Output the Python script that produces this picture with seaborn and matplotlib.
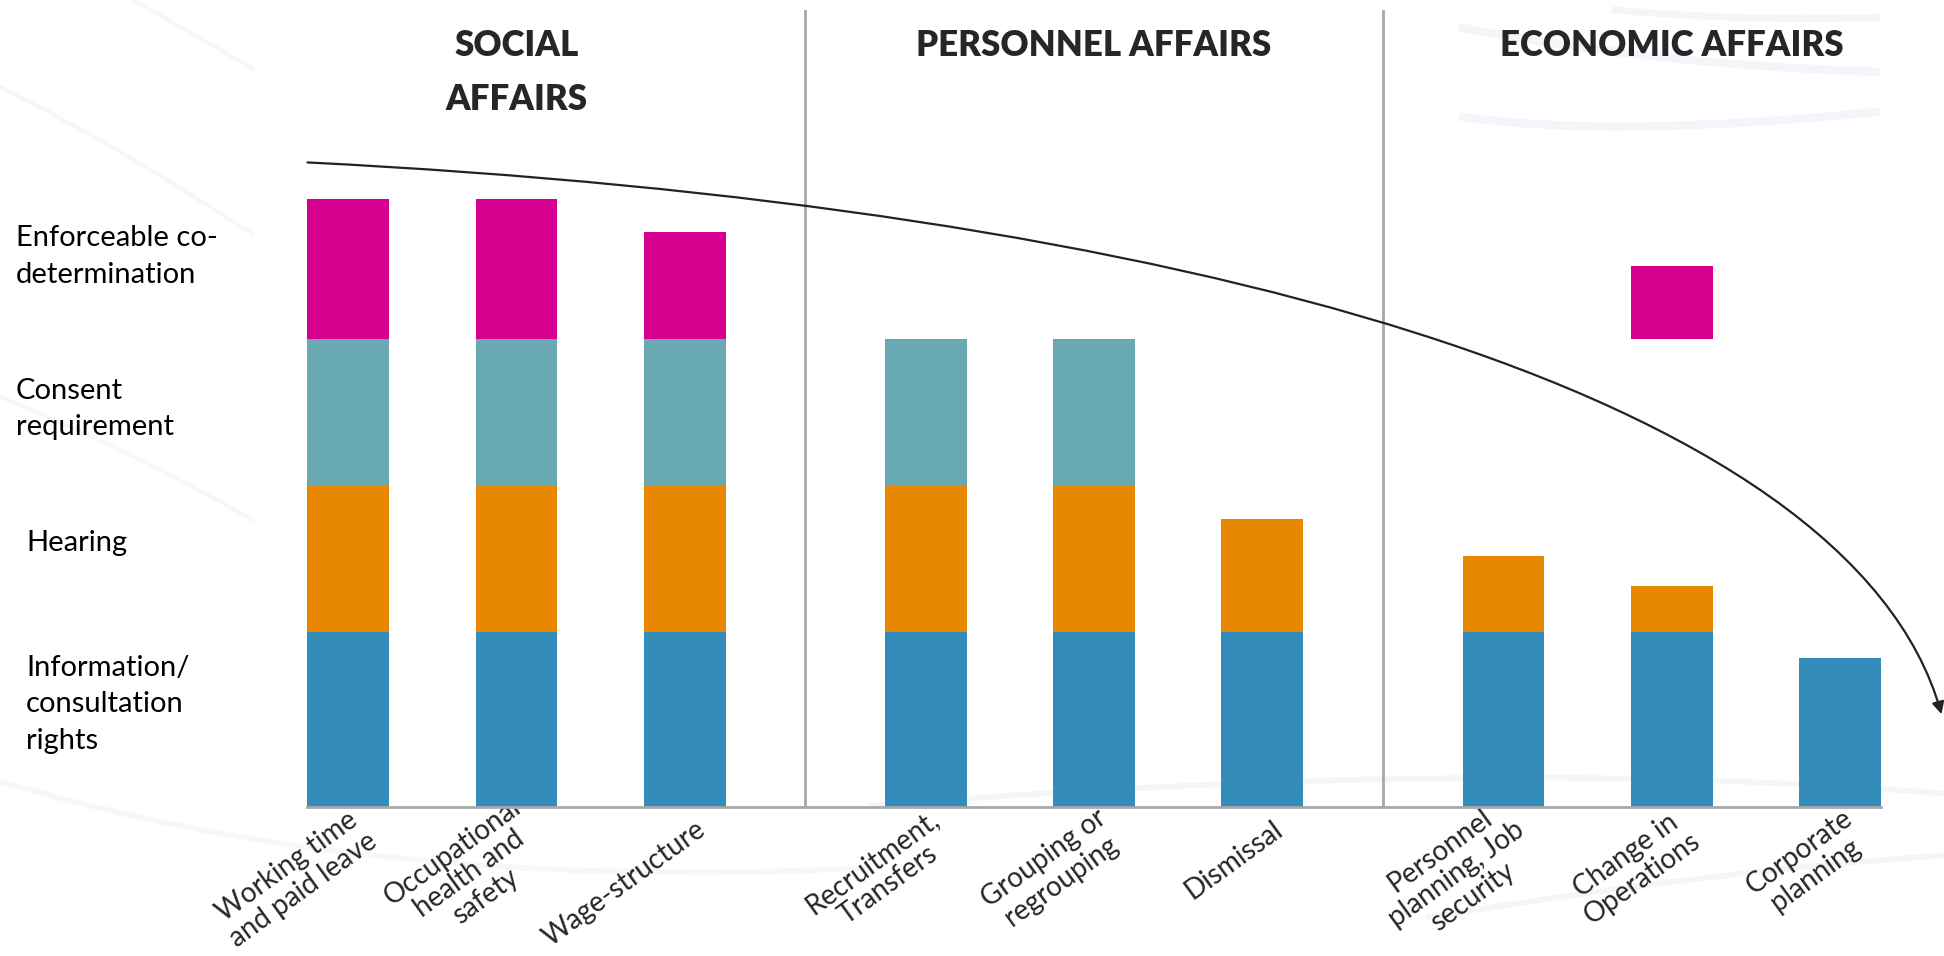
import numpy as np
import pandas as pd
import matplotlib
matplotlib.use("Agg")
import matplotlib.pyplot as plt
import matplotlib.transforms as mtransforms
from matplotlib.path import Path
from matplotlib.patches import FancyArrowPatch, PathPatch
import seaborn as sns

# ---------------- data ----------------
categories = ["Working time\nand paid leave", "Occupational\nhealth and\nsafety", "Wage-structure",
              "Recruitment,\nTransfers", "Grouping or\nregrouping", "Dismissal",
              "Personnel\nplanning, Job\nsecurity", "Change in\nOperations", "Corporate\nplanning"]
group_of = [0, 0, 0, 1, 1, 1, 2, 2, 2]
group_names = ["SOCIAL\nAFFAIRS", "PERSONNEL AFFAIRS", "ECONOMIC AFFAIRS"]

level_names = ["Information/\nconsultation\nrights", "Hearing", "Consent\nrequirement",
               "Enforceable co-\ndetermination"]
level_band = [1.2, 1.0, 1.0, 1.0]          # height of each level band

info     = [1.20, 1.20, 1.20, 1.20, 1.20, 1.20, 1.20, 1.20, 1.02]
hearing  = [1.00, 1.00, 1.00, 1.00, 1.00, 0.77, 0.52, 0.31, 0.00]
consent  = [1.00, 1.00, 1.00, 1.00, 1.00, 0.00, 0.00, 0.00, 0.00]
enforce  = [0.96, 0.96, 0.73, 0.00, 0.00, 0.00, 0.00, 0.50, 0.00]

level_colors = ["#338CBA", "#E78800", "#69A9B2", "#D5008D"]

# ---------------- layout ----------------
W, H = 1944, 956
fig = plt.figure(figsize=(W / 100, H / 100), dpi=100)
sns.set_style("white")
plt.rcParams["font.family"] = ["Lato", "DejaVu Sans"]

group_gap = 1.435
pos = np.array([i + g * (group_gap - 1) for i, g in enumerate(group_of)])
bar_w = 0.486

# reference layout in 1568x771 preview pixels -> fig fractions
def fx(px):
    return px / 1568.0

def fy(py):
    return 1 - py / 771.0

# faint slide-background swooshes
def swoosh(p, color, lw):
    path = Path([(fx(a), fy(b)) for a, b in p],
                [Path.MOVETO] + [Path.CURVE3] * (len(p) - 1))
    fig.add_artist(PathPatch(path, facecolor="none", edgecolor=color, lw=lw,
                             transform=fig.transFigure, zorder=-5))

bg_blue = "#F2F6FB"
bg_gray = "#F6F7F8"
swoosh([(1177, 22), (1330, 52), (1516, 58)], bg_blue, 6)
swoosh([(1177, 94), (1300, 112), (1516, 90)], bg_blue, 6)
swoosh([(1300, 8), (1420, 18), (1516, 14)], bg_blue, 5)
swoosh([(108, 0), (160, 30), (205, 56)], bg_gray, 3)
swoosh([(0, 70), (100, 120), (205, 190)], bg_gray, 3)
swoosh([(0, 320), (100, 360), (205, 420)], bg_gray, 3)
swoosh([(0, 630), (300, 720), (700, 700)], bg_gray, 4)
swoosh([(700, 650), (1200, 610), (1568, 640)], bg_blue, 4)
swoosh([(1150, 740), (1400, 700), (1568, 690)], bg_blue, 4)

ax = fig.add_axes([fx(248), fy(651), fx(1517) - fx(248), fy(8) - fy(651)])
ax.patch.set_alpha(0)

band_bottom = np.concatenate([[0], np.cumsum(level_band)[:-1]])
series = [info, hearing, consent, enforce]
for lvl, (vals, col) in enumerate(zip(series, level_colors)):
    df = pd.DataFrame({"pos": pos, "h": vals})
    df = df[df["h"] > 0].sort_values("pos")
    sns.barplot(data=df, x="pos", y="h", native_scale=True, color=col,
                width=bar_w, errorbar=None, linewidth=0, saturation=1,
                bottom=np.full(len(df), band_bottom[lvl]), ax=ax)

ax.set_xlim(pos[0] - bar_w / 2, pos[-1] + bar_w / 2)
units_per_px = 1.0 / 118.0
ax.set_ylim(0, (651 - 8) * units_per_px)
ax.set_ylabel("")
ax.set_xlabel("")
ax.set_yticks([])
for s in ["top", "left", "right"]:
    ax.spines[s].set_visible(False)
ax.spines["bottom"].set_color("#A8A8A8")
ax.spines["bottom"].set_linewidth(2)

# group separators
for g in range(1, len(group_names)):
    left = pos[[i for i, gg in enumerate(group_of) if gg == g - 1]].max()
    right = pos[[i for i, gg in enumerate(group_of) if gg == g]].min()
    ax.axvline((left + right) / 2, ymin=0, ymax=1, color="#A8A8A8", lw=2)

# x tick labels
ax.set_xticks(pos)
ax.set_xticklabels(categories, rotation=36, ha="right", va="center",
                   rotation_mode="anchor", multialignment="center", fontsize=20,
                   linespacing=1.1)
ax.tick_params(axis="x", length=0, pad=14)
offset = mtransforms.ScaledTranslation(18 / 100, 0, fig.dpi_scale_trans)
for lab in ax.get_xticklabels():
    lab.set_transform(lab.get_transform() + offset)

# level labels
label_x = [fx(21), fx(21), fx(13), fx(13)]
label_dy = [0.105, 0.105, 0.02, 0.065]
blend = mtransforms.blended_transform_factory(fig.transFigure, ax.transData)
for lvl, name in enumerate(level_names):
    yc = band_bottom[lvl] + level_band[lvl] / 2 + label_dy[lvl]
    ax.text(label_x[lvl], yc, name, transform=blend, ha="left", va="center",
            fontsize=21, color="black", linespacing=1.5)

# group headers
blend_h = mtransforms.blended_transform_factory(ax.transData, fig.transFigure)
for g, name in enumerate(group_names):
    xc = pos[[i for i, gg in enumerate(group_of) if gg == g]].mean()
    ax.text(xc, fy(23), name, transform=blend_h, ha="center", va="top",
            fontsize=25, fontweight="heavy", linespacing=1.8)

# decreasing-participation arrow (cubic Bezier)
pts = [(fx(248), fy(131)), (fx(948), fy(166)), (fx(1493), fy(315)), (fx(1566), fy(576))]
path = Path(pts, [Path.MOVETO, Path.CURVE4, Path.CURVE4, Path.CURVE4])
arrow = FancyArrowPatch(path=path, arrowstyle="-|>", mutation_scale=18, lw=1.6,
                        color="#222222", transform=fig.transFigure)
fig.add_artist(arrow)

fig.savefig("out.png", dpi=100)
